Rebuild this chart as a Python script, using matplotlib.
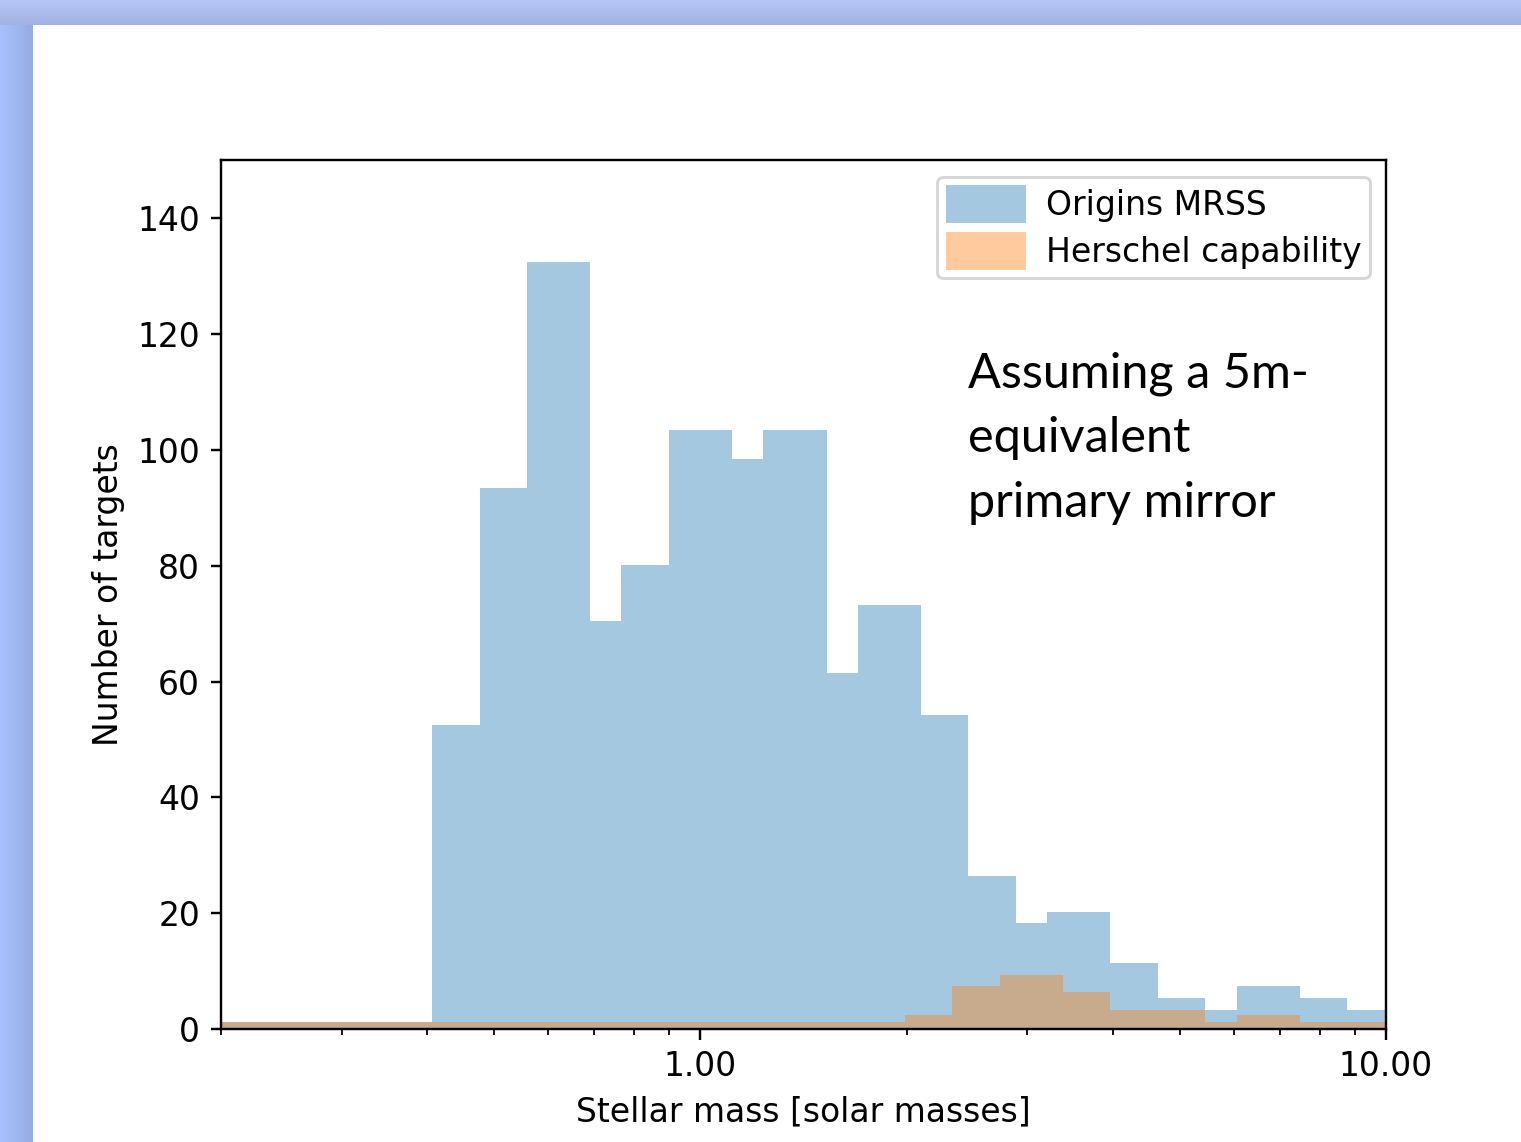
import numpy as np
import matplotlib
matplotlib.use("Agg")
import matplotlib.pyplot as plt

# ---- data ----
blue_edges = [0.2, 0.4064, 0.4776, 0.5594, 0.6909, 0.7666, 0.9006, 1.1126, 1.2346,
              1.5303, 1.6981, 2.0985, 2.4567, 2.8863, 3.2024, 3.9568, 4.6497,
              5.4439, 6.0594, 7.4854, 8.7677, 10.0]
blue_counts = [1.3, 52.5, 93.4, 132.4, 70.4, 80.2, 103.4, 98.4, 103.4, 61.4, 73.3,
               54.3, 26.4, 18.4, 20.3, 11.4, 5.4, 3.4, 7.4, 5.4, 3.4]
orange_edges = [0.2, 1.99, 2.33, 2.74, 3.38, 3.96, 5.44, 6.06, 7.49, 10.0]
orange_counts = [1.3, 2.4, 7.4, 9.4, 6.4, 3.4, 1.3, 2.4, 1.3]
labels = ["Origins MRSS", "Herschel capability"]
note_lines = ["Assuming a 5m-", "equivalent", "primary mirror"]

plt.rcParams["font.size"] = 11

W, H = 1521, 1142
DPI = 216
fig = plt.figure(figsize=(W / DPI, H / DPI), dpi=DPI, facecolor="white")

# ---- slide-like background frame ----
bg = fig.add_axes([0, 0, 1, 1], zorder=-10)
bg.axis("off")
top_grad = np.linspace(0, 1, 25)[:, None, None]
c_top0 = np.array([182, 200, 248]) / 255
c_top1 = np.array([162, 178, 226]) / 255
top_img = (c_top0 * (1 - top_grad) + c_top1 * top_grad) * np.ones((25, 2, 3))
bg.imshow(top_img, extent=[0, W, 25, 0], aspect="auto", interpolation="bilinear")
left_grad = np.linspace(0, 1, 33)[None, :, None]
c_l0 = np.array([168, 194, 255]) / 255
c_l1 = np.array([150, 172, 226]) / 255
left_img = (c_l0 * (1 - left_grad) + c_l1 * left_grad) * np.ones((2, 33, 3))
bg.imshow(left_img, extent=[0, 33, H, 25], aspect="auto", interpolation="bilinear")
bg.set_xlim(0, W)
bg.set_ylim(H, 0)

# ---- main axes ----
ax = fig.add_axes([221 / W, 1 - 1029.3 / H, (1386 - 221) / W, (1029.3 - 160) / H])
ax.hist(blue_edges[:-1], bins=blue_edges, weights=blue_counts, alpha=0.4,
        color="tab:blue", label=labels[0])
ax.hist(orange_edges[:-1], bins=orange_edges, weights=orange_counts, alpha=0.4,
        color="tab:orange", label=labels[1])
ax.set_xscale("log")
ax.set_xlim(0.2, 10)
ax.set_ylim(0, 150)
ax.set_yticks([0, 20, 40, 60, 80, 100, 120, 140])
ax.xaxis.set_major_formatter(matplotlib.ticker.FormatStrFormatter("%.2f"))
ax.xaxis.set_minor_formatter(matplotlib.ticker.NullFormatter())
ax.set_xlabel("Stellar mass [solar masses]")
ax.set_ylabel("Number of targets")

ax.legend(loc="upper right", handlelength=2.45, handleheight=1.4,
          labelspacing=0.28, handletextpad=0.58, borderpad=0.25,
          borderaxespad=0.5)

# annotation text
txt_font = "Lato"
for line, ypix in zip(note_lines, [387, 452, 517]):
    fig.text(968 / W, 1 - ypix / H, line, fontsize=16.2, family=txt_font,
             va="baseline", ha="left", color="black")

fig.savefig("out.png", dpi=DPI)
